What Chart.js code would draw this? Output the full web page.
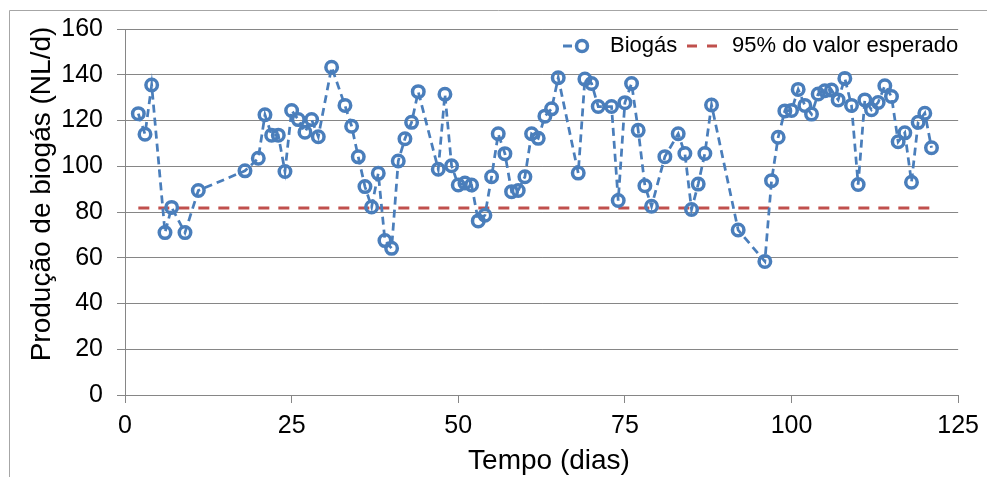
<!DOCTYPE html>
<html lang="pt">
<head>
<meta charset="utf-8">
<title>Produção de biogás</title>
<script src="https://cdn.jsdelivr.net/npm/chart.js@4.4.1/dist/chart.umd.min.js"></script>
<style>
  html, body { margin: 0; padding: 0; background: #ffffff; }
  #biogasChart { display: block; }
</style>
</head>
<body>
<canvas id="biogasChart" width="987" height="477"></canvas>
<script>
// Dias de medição e produção de biogás (NL/d)
const days = [
  2, 3, 4, 6, 7, 9, 11, 18, 20, 21, 22, 23, 24, 25, 26, 27, 28, 29, 31, 33,
  34, 35, 36, 37, 38, 39, 40, 41, 42, 43, 44, 47, 48, 49, 50, 51, 52, 53, 54, 55,
  56, 57, 58, 59, 60, 61, 62, 63, 64, 65, 68, 69, 70, 71, 73, 74, 75, 76, 77, 78,
  79, 81, 83, 84, 85, 86, 87, 88, 92, 96, 97, 98, 99, 100, 101, 102, 103, 104, 105, 106,
  107, 108, 109, 110, 111, 112, 113, 114, 115, 116, 117, 118, 119, 120, 121
];
const biogas = [
  123, 114, 135.5, 71, 82, 71, 89.4, 98, 103.5, 122.5, 113.6, 113.6, 97.7, 124.4, 120.4, 114.9, 120.4, 112.9, 143.3, 126.6,
  117.5, 104.1, 91.1, 82.2, 96.9, 67.5, 64.1, 102.3, 112, 119.2, 132.6, 98.7, 131.5, 100.2, 91.8, 92.7, 91.8, 76.1, 78.6, 95.4,
  114.2, 105.5, 88.9, 89.4, 95.4, 114.2, 112.2, 121.9, 125.1, 138.7, 97, 138.1, 136.2, 126.1, 126.1, 85, 127.8, 136.2, 115.7, 91.5,
  82.5, 104.2, 114.2, 105.6, 81.1, 92.2, 105.6, 126.8, 72.1, 58.4, 93.7, 112.7, 124.2, 124.4, 133.6, 126.6, 122.8, 131.6, 133, 133.3,
  129, 138.4, 126.6, 92, 129, 124.7, 127.9, 135.2, 130.5, 110.7, 114.6, 93, 119.2, 123.2, 108.1
];

// Linha de referência: 95% do valor esperado
const refDays = [2, 121];
const refValues = [81.7, 81.7];

// Eixos
const xTicks = [0, 25, 50, 75, 100, 125];
const yTicks = [0, 20, 40, 60, 80, 100, 120, 140, 160];

const seriesLabels = ['Biogás', '95% do valor esperado'];
const xTitle = 'Tempo (dias)';
const yTitle = 'Produção de biogás (NL/d)';

const BLUE = '#4A7EBB';
const RED = '#C0504D';
const GRID = '#868686';
const FONT = '"Liberation Sans", Arial, sans-serif';

// Moldura cinza em volta da figura (só topo e lado esquerdo aparecem)
const framePlugin = {
  id: 'frame',
  beforeDraw(chart) {
    const ctx = chart.ctx;
    ctx.save();
    ctx.strokeStyle = '#a6a6a6';
    ctx.lineWidth = 1;
    ctx.beginPath();
    ctx.moveTo(9.5, chart.height + 5);
    ctx.lineTo(9.5, 10.5);
    ctx.lineTo(chart.width + 5, 10.5);
    ctx.stroke();
    ctx.restore();
  }
};

// Títulos dos eixos e legenda desenhados à mão para acertar as posições
const labelsPlugin = {
  id: 'labels',
  afterDraw(chart) {
    const ctx = chart.ctx;
    const ds = chart.data.datasets;
    ctx.save();
    ctx.fillStyle = '#000000';

    // título do eixo x
    ctx.font = '28px ' + FONT;
    ctx.textAlign = 'center';
    ctx.textBaseline = 'alphabetic';
    ctx.fillText(xTitle, 549, 469);

    // título do eixo y (rodado)
    ctx.save();
    ctx.translate(50, 194);
    ctx.rotate(-Math.PI / 2);
    ctx.fillText(yTitle, 0, 0);
    ctx.restore();

    // legenda
    const ly = 46;
    ctx.font = '22px ' + FONT;
    ctx.textAlign = 'left';
    ctx.textBaseline = 'middle';

    ctx.strokeStyle = ds[0].borderColor;
    ctx.lineWidth = 3;
    ctx.beginPath();
    ctx.moveTo(563, ly);
    ctx.lineTo(572, ly);
    ctx.stroke();
    ctx.lineWidth = 3.5;
    ctx.beginPath();
    ctx.arc(582, ly, 5.5, 0, Math.PI * 2);
    ctx.stroke();
    ctx.fillText(ds[0].label, 610, ly);

    ctx.strokeStyle = ds[1].borderColor;
    ctx.lineWidth = 3;
    ctx.beginPath();
    ctx.moveTo(687, ly);
    ctx.lineTo(697, ly);
    ctx.moveTo(707, ly);
    ctx.lineTo(717, ly);
    ctx.stroke();
    ctx.fillText(ds[1].label, 732, ly);

    ctx.restore();
  }
};

function setupChart() {
  const ctx = document.getElementById('biogasChart').getContext('2d');

  const biogasPoints = days.map((d, i) => ({ x: d, y: biogas[i] }));
  const refPoints = refDays.map((d, i) => ({ x: d, y: refValues[i] }));

  new Chart(ctx, {
    type: 'line',
    data: {
      datasets: [
        {
          label: seriesLabels[0],
          data: biogasPoints,
          borderColor: BLUE,
          borderWidth: 2.75,
          borderDash: [8, 5],
          pointStyle: 'circle',
          pointRadius: 5.75,
          pointBorderWidth: 3.5,
          pointBorderColor: BLUE,
          pointBackgroundColor: 'rgba(0,0,0,0)',
          tension: 0,
          order: 1
        },
        {
          label: seriesLabels[1],
          data: refPoints,
          borderColor: RED,
          borderWidth: 3,
          borderDash: [11, 9],
          pointRadius: 0,
          tension: 0,
          order: 2
        }
      ]
    },
    options: {
      responsive: false,
      devicePixelRatio: 1,
      animation: false,
      layout: {
        padding: { top: 25, right: 25, left: 0, bottom: 0 }
      },
      scales: {
        x: {
          type: 'linear',
          min: 0,
          max: 125,
          afterFit: scale => { scale.height = 82; },
          afterBuildTicks: scale => { scale.ticks = xTicks.map(v => ({ value: v })); },
          grid: {
            drawOnChartArea: false,
            drawTicks: true,
            tickLength: 8,
            color: GRID,
            lineWidth: 1
          },
          border: { display: true, color: GRID, width: 1 },
          ticks: {
            color: '#000000',
            padding: 8,
            maxRotation: 0,
            font: { family: FONT, size: 25 }
          }
        },
        y: {
          min: 0,
          max: 160,
          afterFit: scale => { scale.width = 125; },
          afterBuildTicks: scale => { scale.ticks = yTicks.map(v => ({ value: v })); },
          grid: {
            drawTicks: true,
            tickLength: 8,
            color: GRID,
            lineWidth: 1
          },
          border: { display: true, color: GRID, width: 1 },
          ticks: {
            color: '#000000',
            padding: 14,
            font: { family: FONT, size: 25 }
          }
        }
      },
      plugins: {
        legend: { display: false },
        tooltip: { enabled: false }
      }
    },
    plugins: [framePlugin, labelsPlugin]
  });
}

document.addEventListener('DOMContentLoaded', setupChart);
</script>
</body>
</html>
